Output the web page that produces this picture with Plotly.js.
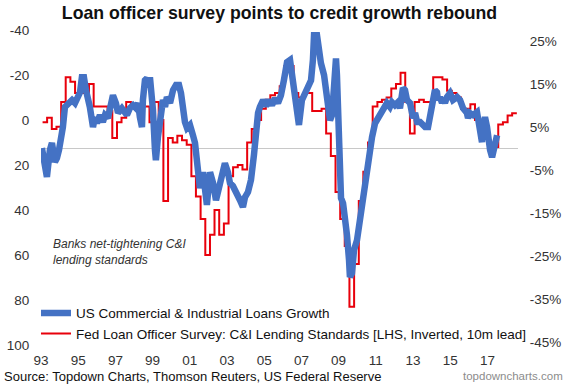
<!DOCTYPE html>
<html><head><meta charset="utf-8">
<script src="https://cdn.plot.ly/plotly-3.0.1.min.js"></script>
<style>html,body{margin:0;padding:0;background:#fff}#chart{width:570px;height:386px}</style>
</head><body><div id="chart"></div>
<script>
// US C&I loans growth (% y/y, right axis) - decimal-year sample dates and values
const blueYears = [1993.05,1993.22,1993.32,1993.48,1993.59,1993.75,1993.86,1993.97,1994.08,1994.18,1994.29,1994.45,1994.67,1994.83,1994.94,1995.10,1995.20,1995.31,1995.42,1995.53,1995.63,1995.80,1995.90,1996.01,1996.17,1996.33,1996.44,1996.60,1996.76,1996.87,1997.03,1997.14,1997.35,1997.52,1997.62,1997.78,1997.95,1998.11,1998.22,1998.32,1998.43,1998.48,1998.59,1998.70,1998.81,1998.86,1998.97,1999.02,1999.13,1999.18,1999.29,1999.40,1999.56,1999.67,1999.77,1999.94,2000.10,2000.26,2000.42,2000.53,2000.63,2000.74,2000.85,2001.01,2001.17,2001.28,2001.44,2001.55,2001.71,2001.82,2001.92,2002.09,2002.25,2002.41,2002.57,2002.73,2002.89,2003.05,2003.16,2003.32,2003.54,2003.70,2003.86,2003.97,2004.13,2004.29,2004.45,2004.56,2004.67,2004.77,2004.94,2005.10,2005.26,2005.42,2005.58,2005.74,2005.90,2006.06,2006.23,2006.39,2006.55,2006.71,2006.87,2007.03,2007.19,2007.35,2007.52,2007.62,2007.68,2007.84,2007.95,2008.05,2008.22,2008.38,2008.54,2008.65,2008.75,2008.86,2008.91,2009.02,2009.13,2009.24,2009.34,2009.45,2009.56,2009.61,2009.72,2009.83,2009.99,2010.15,2010.31,2010.53,2010.69,2010.80,2010.96,2011.06,2011.23,2011.39,2011.49,2011.60,2011.76,2011.87,2012.03,2012.19,2012.30,2012.41,2012.46,2012.57,2012.68,2012.84,2012.95,2013.00,2013.11,2013.22,2013.38,2013.48,2013.65,2013.81,2013.91,2014.02,2014.08,2014.18,2014.29,2014.34,2014.45,2014.56,2014.61,2014.72,2014.83,2014.99,2015.15,2015.37,2015.53,2015.69,2015.90,2015.96,2016.06,2016.23,2016.44,2016.55,2016.60,2016.71,2016.76,2016.87,2016.98,2017.03,2017.14,2017.25,2017.35,2017.41,2017.52];
const blueValues = [0.1,-3.8,-6.6,-0.3,1.3,-3.1,-2.2,-0.3,2.0,5.0,9.7,10.6,11.3,10.6,12.0,13.1,16.6,16.6,13.6,12.0,9.7,5.0,7.3,5.9,7.8,6.2,7.8,7.1,10.6,12.4,10.6,8.3,9.4,8.5,7.8,9.4,10.1,9.4,10.6,7.3,5.0,11.3,15.9,16.4,14.3,16.6,12.9,9.0,-0.3,-2.7,2.7,6.6,11.3,9.7,12.0,10.6,13.6,14.8,14.8,12.9,9.0,6.2,4.8,5.5,3.1,1.3,-5.0,-9.2,-5.5,-9.7,-13.1,-5.5,-8.0,-12.0,-8.5,-6.6,-3.4,-5.5,-8.0,-8.7,-10.3,-12.0,-13.6,-11.3,-10.1,-7.3,-1.5,4.8,8.3,9.7,11.3,9.9,11.3,10.1,11.7,10.6,12.4,15.9,20.1,20.6,14.8,10.1,5.5,11.3,13.1,14.1,15.9,20.6,26.4,26.4,21.7,19.9,17.1,12.0,6.6,7.8,17.1,21.0,17.1,2.7,-11.5,-12.7,-15.9,-20.1,-25.9,-29.9,-29.0,-23.6,-21.3,-16.6,-10.3,-4.3,0.3,2.7,5.9,6.6,7.8,9.0,9.4,10.6,9.7,10.8,10.1,10.8,9.4,12.0,14.1,13.6,11.3,10.6,9.0,7.1,8.3,6.2,6.2,5.5,5.0,5.0,7.8,9.0,12.0,13.6,13.1,11.3,12.0,10.6,11.7,10.6,12.0,12.9,11.3,12.0,11.3,9.4,8.3,7.1,8.3,7.8,8.5,5.5,2.4,1.5,5.0,7.3,5.0,1.5,-0.3,-2.0,-0.3,1.5,3.1];

// Fed SLOOS net % tightening C&I standards (left axis, inverted), quarterly, 10m lead, first value Feb 1993
const redStartYear = 1993, redStartMonth = 2;
const redValues = [1,-1,4,3,-8,-19,-17,-12,-12,-12,-16,-6,-6,-6,-4,8,1,-1,-8,-7,-7,-6,-6,1,-8,0,36,8,10,7,9,11,25,34,44,60,51,40,51,46,25,21,20,22,10,4,0,-5,-9,-11,-12,-15,-24,-24,-12,-10,-12,-12,-4,-4,-5,6,16,32,44,56,83,64,36,23,10,-6,-8,-9,-10,-14,-16,-21,-8,6,-8,-9,-8,-8,-19,-19,-18,-13,-12,-10,-5,-5,-7,0,8,8,12,12,2,1,-2,-3,-3];

const xTickYears = [1993,1995,1997,1999,2001,2003,2005,2007,2009,2011,2013,2015,2017];
const xTickLabels = ['93','95','97','99','01','03','05','07','09','11','13','15','17'];
const leftTicks = [-40,-20,0,20,40,60,80,100];
const leftTickLabels = ['-40','-20','0','20','40','60','80','100'];
const rightTicks = [-45,-35,-25,-15,-5,5,15,25];
const rightTickLabels = ['-45%','-35%','-25%','-15%','-5%','5%','15%','25%'];

const seriesNames = ['US Commercial & Industrial Loans Growth','Fed Loan Officer Survey: C&I Lending Standards [LHS, Inverted, 10m lead]'];

function yearToDate(y){
  const yr = Math.floor(y), f = y - yr;
  const a = Date.UTC(yr,0,1), b = Date.UTC(yr+1,0,1);
  return new Date(a + f*(b-a)).toISOString().slice(0,10);
}
const blueDates = blueYears.map(yearToDate);
const redDates = redValues.map((v,i)=>{
  const d = new Date(Date.UTC(redStartYear, redStartMonth-1+3*i, 1));
  return d.toISOString().slice(0,10);
});
const xTickVals = xTickYears.map(y=>y+'-01-01');

const xRange = [yearToDate(1993.0), yearToDate(2018.645)];
const y2Range = [-45.7, 27.6];
const zeroPos = -y2Range[0]/(y2Range[1]-y2Range[0]);

const FONT = 'Liberation Sans, Arial, sans-serif';

const traces = [
  {x: blueDates, y: blueValues, name: seriesNames[0], type:'scatter', mode:'lines',
   yaxis:'y2', line:{color:'#4472C4', width:6.5}},
  {x: redDates, y: redValues, name: seriesNames[1], type:'scatter', mode:'lines',
   yaxis:'y', line:{color:'#E8000B', width:2, shape:'hv'}}
];

const layout = {
  width:570, height:386,
  margin:{l:41, r:52, t:30, b:41, pad:0},
  paper_bgcolor:'#fff', plot_bgcolor:'#fff',
  font:{family:FONT, color:'#262626'},
  showlegend:true,
  title:{text:'<b>Loan officer survey points to credit growth rebound</b>', font:{family:FONT, size:17.7, color:'#111'},
         xref:'paper', x:0.5, xanchor:'center', y:1-13/386, yanchor:'middle'},
  xaxis:{type:'date', range:xRange, tickvals:xTickVals, ticktext:xTickLabels,
         showgrid:false, zeroline:false, showline:false, ticks:'outside', ticklen:3, tickcolor:'rgba(0,0,0,0)',
         tickfont:{size:13.5, color:'#333'}},
  xaxis2:{type:'date', range:xRange, overlaying:'x', anchor:'free', position:zeroPos, matches:'x',
          tickvals:xTickVals, showticklabels:false, ticks:'outside', ticklen:3, tickcolor:'#c8c8c8',
          showgrid:false, zeroline:false, showline:false},
  yaxis:{range:[100,-40], tickvals:leftTicks, ticktext:leftTickLabels, showgrid:false, zeroline:false,
         showline:false, ticks:'outside', ticklen:8, tickcolor:'rgba(0,0,0,0)', tickfont:{size:13.5, color:'#333'}},
  yaxis2:{range:y2Range, overlaying:'y', side:'right', anchor:'x', tickvals:rightTicks, ticktext:rightTickLabels,
          showgrid:false, zeroline:true, zerolinecolor:'#c8c8c8', zerolinewidth:1, showline:false,
          ticks:'outside', ticklen:8, tickcolor:'rgba(0,0,0,0)', tickfont:{size:13.5, color:'#333'}},
  legend:{x:-0.0105, y:0.15, xanchor:'left', yanchor:'top', bgcolor:'rgba(0,0,0,0)',
          font:{family:FONT, size:13.5, color:'#111'}, tracegroupgap:0},
  annotations:[
    {text:'<i>Banks net-tightening C&amp;I<br>lending standards</i>', xref:'paper', yref:'paper',
     x:(51-41)/477, y:(345-252.5)/315, xanchor:'left', yanchor:'middle', align:'left', showarrow:false,
     font:{family:FONT, size:12, color:'#333'}},
    {text:'Source: Topdown Charts, Thomson Reuters, US Federal Reserve', xref:'paper', yref:'paper',
     x:(2-41)/477, y:(345-376)/315, xanchor:'left', yanchor:'middle', showarrow:false,
     font:{family:FONT, size:13, color:'#111'}},
    {text:'topdowncharts.com', xref:'paper', yref:'paper',
     x:(565-41)/477, y:(345-376)/315, xanchor:'right', yanchor:'middle', showarrow:false,
     font:{family:'Liberation Sans Narrow, Liberation Sans, Arial, sans-serif', size:11.5, color:'#8c8c8c'}}
  ]
};

Plotly.newPlot('chart', traces, layout, {staticPlot:true, displayModeBar:false});
</script>
</body></html>
